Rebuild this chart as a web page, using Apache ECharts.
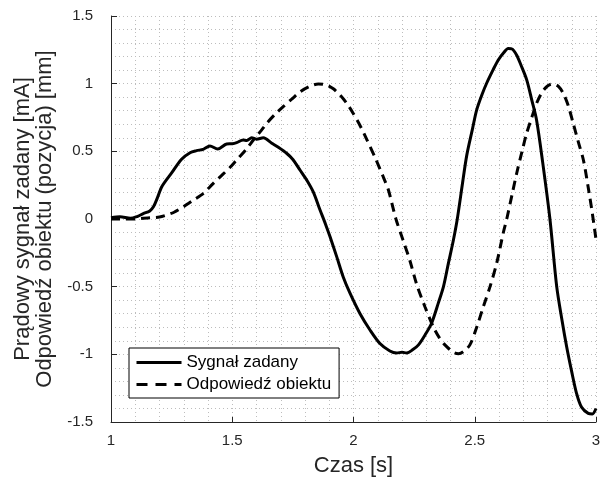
<!DOCTYPE html>
<html>
<head>
<meta charset="utf-8">
<script src="https://cdn.jsdelivr.net/npm/echarts@6.0.0/dist/echarts.min.js"></script>
<style>
    html, body { margin: 0; padding: 0; background: #fff; }
    #chart { width: 604px; height: 483px; }
</style>
</head>
<body>
<div id="chart"></div>
<script>
//dane
var seriesNames = ['Sygnał zadany', 'Odpowiedź obiektu'];

var sygnalT = [1.00, 1.037, 1.08, 1.11, 1.133, 1.16, 1.175, 1.19, 1.21, 1.25, 1.29, 1.326, 1.353, 1.38, 1.408, 1.44,
    1.477, 1.50, 1.518, 1.545, 1.56, 1.58, 1.60, 1.628, 1.663, 1.69, 1.724, 1.75, 1.78, 1.807, 1.834, 1.862, 1.885,
    1.903, 1.931, 1.958, 1.986, 2.027, 2.068, 2.109, 2.15, 2.178, 2.20, 2.219, 2.245, 2.268, 2.295, 2.322, 2.35, 2.371, 2.391, 2.412,
    2.428, 2.45, 2.467, 2.49, 2.508, 2.53, 2.549, 2.575, 2.597, 2.62, 2.638, 2.655, 2.673, 2.69, 2.714, 2.735,
    2.755, 2.78, 2.81, 2.838, 2.86, 2.879, 2.90, 2.92, 2.94, 2.968, 2.985, 3.00];
var sygnalV = [0.01, 0.017, 0.005, 0.02, 0.04, 0.06, 0.09, 0.15, 0.24, 0.34, 0.44, 0.49, 0.505, 0.515, 0.54, 0.517,
    0.554, 0.556, 0.564, 0.584, 0.58, 0.60, 0.59, 0.60, 0.56, 0.53, 0.486, 0.44, 0.36, 0.288, 0.20, 0.067, -0.04,
    -0.13, -0.28, -0.43, -0.55, -0.70, -0.82, -0.92, -0.975, -0.99, -0.985, -0.99, -0.965, -0.93, -0.857, -0.77, -0.62, -0.50, -0.33, -0.155,
    0.0, 0.27, 0.47, 0.66, 0.806, 0.92, 1.003, 1.10, 1.175, 1.23, 1.26, 1.255, 1.21, 1.14, 1.03, 0.88,
    0.73, 0.42, 0.0, -0.5, -0.75, -0.944, -1.13, -1.29, -1.39, -1.436, -1.44, -1.40];

var odpowiedzT = [1.00, 1.05, 1.10, 1.133, 1.17, 1.20, 1.23, 1.26, 1.298, 1.34, 1.381, 1.42, 1.449, 1.49, 1.518,
    1.56, 1.587, 1.62, 1.642, 1.68, 1.71, 1.745, 1.78, 1.82, 1.855, 1.89, 1.917, 1.945, 1.972, 1.999, 2.03, 2.054,
    2.09, 2.123, 2.144, 2.175, 2.205, 2.233, 2.26, 2.295, 2.33, 2.355, 2.377, 2.412, 2.433, 2.453, 2.48,
    2.508, 2.535, 2.563, 2.59, 2.618, 2.632, 2.655, 2.673, 2.695, 2.714, 2.735, 2.755, 2.777, 2.797,
    2.81, 2.824, 2.845, 2.865, 2.885, 2.906, 2.927, 2.948, 2.97, 2.985, 3.00];
var odpowiedzV = [0.0, 0.0, 0.0, 0.005, 0.01, 0.015, 0.03, 0.05, 0.09, 0.14, 0.19, 0.26, 0.31, 0.38, 0.436,
    0.52, 0.584, 0.655, 0.707, 0.78, 0.83, 0.885, 0.94, 0.98, 0.998, 0.99, 0.962, 0.915, 0.855, 0.78, 0.68, 0.59,
    0.45, 0.31, 0.214, 0.0, -0.16, -0.31, -0.48, -0.65, -0.80, -0.88, -0.93, -0.985, -0.995, -0.98, -0.93,
    -0.80, -0.65, -0.50, -0.33, -0.10, 0.0, 0.19, 0.338, 0.50, 0.633, 0.75, 0.855, 0.935, 0.978,
    0.993, 0.998, 0.98, 0.929, 0.84, 0.707, 0.57, 0.436, 0.21, 0.04, -0.15];

var xTicks = [1, 1.5, 2, 2.5, 3];
var yTicks = [-1.5, -1, -0.5, 0, 0.5, 1, 1.5];

function zip(t, v) {
    var out = [];
    for (var i = 0; i < t.length; i++) {
        out.push([t[i], v[i]]);
    }
    return out;
}

function dotted() {
    return { show: true, lineStyle: { color: '#bdbdbd', type: [1, 3], width: 1, opacity: 1 } };
}

var textColor = '#262626';

var myChart = echarts.init(document.getElementById('chart'), null, { renderer: 'canvas' });
myChart.setOption({
    animation: false,
    backgroundColor: '#fff',
    textStyle: { fontFamily: 'Liberation Sans, Arial, sans-serif' },
    grid: { left: 111, right: 8, top: 16, bottom: 61 },
    legend: {
        orient: 'vertical',
        left: 129,
        top: 348,
        width: 209,
        padding: [6, 8, 5, 6],
        itemGap: 5,
        itemWidth: 45,
        itemHeight: 16,
        backgroundColor: '#fff',
        borderColor: '#000',
        borderWidth: 1,
        borderRadius: 0,
        itemStyle: { opacity: 0 },
        lineStyle: { width: 3 },
        data: [
            { name: seriesNames[0] },
            { name: seriesNames[1], lineStyle: { width: 3, type: [11, 8] } }
        ],
        textStyle: { fontSize: 17, color: '#000' }
    },
    xAxis: {
        type: 'value',
        min: xTicks[0],
        max: xTicks[xTicks.length - 1],
        interval: 0.5,
        name: 'Czas [s]',
        nameLocation: 'middle',
        nameGap: 33,
        nameTextStyle: { fontSize: 22, color: textColor },
        axisLine: { show: true, onZero: false, lineStyle: { color: textColor, width: 1 } },
        axisTick: { show: true, inside: true, length: 5, lineStyle: { color: textColor } },
        axisLabel: { fontSize: 15, color: textColor, margin: 11 },
        splitLine: dotted(),
        minorTick: { show: false, splitNumber: 5 },
        minorSplitLine: dotted()
    },
    yAxis: {
        type: 'value',
        min: yTicks[0],
        max: yTicks[yTicks.length - 1],
        interval: 0.5,
        name: 'Prądowy sygnał zadany [mA]\nOdpowiedź obiektu (pozycja) [mm]',
        nameLocation: 'middle',
        nameGap: 39,
        nameTextStyle: { fontSize: 22, color: textColor, lineHeight: 22 },
        axisLine: { show: true, onZero: false, lineStyle: { color: textColor, width: 1 } },
        axisTick: { show: true, inside: true, length: 6, lineStyle: { color: textColor } },
        axisLabel: { fontSize: 15, color: textColor, margin: 18 },
        splitLine: dotted(),
        minorTick: { show: false, splitNumber: 5 },
        minorSplitLine: dotted()
    },
    series: [
        {
            name: seriesNames[0],
            type: 'line',
            data: zip(sygnalT, sygnalV),
            showSymbol: false,
            symbol: 'none',
            smooth: 0.3,
            lineStyle: { color: '#000', width: 3 },
            itemStyle: { color: '#000' }
        },
        {
            name: seriesNames[1],
            type: 'line',
            data: zip(odpowiedzT, odpowiedzV),
            showSymbol: false,
            symbol: 'none',
            smooth: 0.3,
            lineStyle: { color: '#000', width: 3, type: [9, 6] },
            itemStyle: { color: '#000' }
        }
    ]
});
</script>
</body>
</html>
